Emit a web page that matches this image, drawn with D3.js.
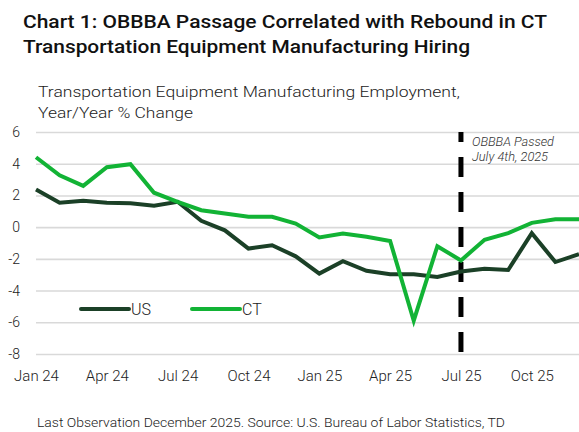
<!DOCTYPE html>
<html>
<head>
<meta charset="utf-8">
<script src="https://cdn.jsdelivr.net/npm/d3@7"></script>
<style>
  html, body { margin: 0; padding: 0; background: #fff; }
  svg { display: block; font-family: "Roboto", "Liberation Sans", sans-serif; }
</style>
</head>
<body>
<div id="chart"></div>
<script>
// monthly data, Jan 2024 .. Dec 2025
let months = ['Jan 24','Feb 24','Mar 24','Apr 24','May 24','Jun 24','Jul 24','Aug 24','Sep 24','Oct 24','Nov 24','Dec 24',
              'Jan 25','Feb 25','Mar 25','Apr 25','May 25','Jun 25','Jul 25','Aug 25','Sep 25','Oct 25','Nov 25','Dec 25'];
let usValues = [2.38,1.54,1.66,1.54,1.5,1.35,1.6,0.4,-0.2,-1.35,-1.14,-1.84,
                -2.93,-2.15,-2.75,-2.97,-2.97,-3.14,-2.8,-2.63,-2.7,-0.38,-2.2,-1.71];
let ctValues = [4.41,3.27,2.6,3.78,3.97,2.17,1.6,1.07,0.86,0.65,0.65,0.23,
                -0.65,-0.4,-0.61,-0.87,-5.9,-1.2,-2.1,-0.8,-0.38,0.27,0.49,0.49];
let xTickLabels = ['Jan 24','Apr 24','Jul 24','Oct 24','Jan 25','Apr 25','Jul 25','Oct 25'];
let yTicks = [6,4,2,0,-2,-4,-6,-8];
let seriesNames = ['US','CT'];
let eventMonth = 'Jul 25';

let width = 579, height = 432;
let colors = {US: '#1b4027', CT: '#12b335'};

let svg = d3.select("#chart").append("svg")
  .attr('width', width)
  .attr('height', height);

let x = d3.scalePoint().domain(months).range([36, 579]);
let y = d3.scaleLinear().domain([-8, 6]).range([354, 132]);

// titles
let title = svg.append("g").attr("fill", "#111").attr("font-weight", 500).attr("font-size", 17.5);
title.append("text").attr("x", 23).attr("y", 28)
  .attr("textLength", 524).attr("lengthAdjust", "spacingAndGlyphs")
  .text("Chart 1: OBBBA Passage Correlated with Rebound in CT");
title.append("text").attr("x", 23).attr("y", 53)
  .attr("textLength", 447).attr("lengthAdjust", "spacingAndGlyphs")
  .text("Transportation Equipment Manufacturing Hiring");

let ytitle = svg.append("g").attr("fill", "#222").attr("font-size", 15).attr("font-weight", 300);
ytitle.append("text").attr("x", 38).attr("y", 97)
  .attr("textLength", 422).attr("lengthAdjust", "spacingAndGlyphs")
  .text("Transportation Equipment Manufacturing Employment,");
ytitle.append("text").attr("x", 38).attr("y", 118)
  .attr("textLength", 155).attr("lengthAdjust", "spacingAndGlyphs")
  .text("Year/Year % Change");

// grid + y axis
const yAxis = d3.axisLeft(y).tickValues(yTicks).tickSize(-(579 - 36)).tickPadding(16)
  .tickFormat(d3.format("d"));
svg.append("g")
  .attr("transform", "translate(36,0)")
  .call(yAxis)
  .call(g => g.select(".domain").remove())
  .call(g => g.selectAll(".tick line").attr("stroke", "#d9d9d9").attr("stroke-width", 1.6))
  .call(g => g.selectAll(".tick text").attr("fill", "#222").attr("font-size", 14)
    .attr("font-family", "Roboto, sans-serif").attr("font-weight", 300)
    .text(d => d < 0 ? "-" + Math.abs(d) : d));

// x axis labels
const xAxis = d3.axisBottom(x).tickValues(xTickLabels).tickSize(0).tickPadding(0);
svg.append("g")
  .attr("transform", "translate(0,370)")
  .call(xAxis)
  .call(g => g.select(".domain").remove())
  .call(g => g.selectAll(".tick text").attr("fill", "#222").attr("font-size", 15)
    .attr("font-family", "Roboto, sans-serif").attr("font-weight", 300).attr("dy", "0.71em"));

// event line
svg.append("line")
  .attr("x1", x(eventMonth)).attr("x2", x(eventMonth))
  .attr("y1", y(6)).attr("y2", y(-8))
  .attr("stroke", "#000").attr("stroke-width", 5)
  .attr("stroke-dasharray", "20,15").attr("stroke-dashoffset", 10);

let note = svg.append("g").attr("fill", "#333").attr("font-size", 12.5).attr("font-style", "italic").attr("font-weight", 300);
note.append("text").attr("x", 472).attr("y", 146).attr("textLength", 82).attr("lengthAdjust", "spacingAndGlyphs").text("OBBBA Passed");
note.append("text").attr("x", 472).attr("y", 161).attr("textLength", 76).attr("lengthAdjust", "spacingAndGlyphs").text("July 4th, 2025");

// series
const line = d3.line().x((d, i) => x(months[i])).y(d => y(d));
let series = [
  {name: 'US', values: usValues},
  {name: 'CT', values: ctValues}
];
svg.append("g").selectAll("path")
  .data(series)
  .enter()
  .append("path")
  .attr("fill", "none")
  .attr("stroke", d => colors[d.name])
  .attr("stroke-width", 4)
  .attr("stroke-linejoin", "miter")
  .attr("d", d => line(d.values));

// legend
let legendX = [81, 192];
let legend = svg.append("g").selectAll("g")
  .data(seriesNames)
  .enter()
  .append("g")
  .attr("transform", (d, i) => "translate(" + legendX[i] + ",309)");
legend.append("line")
  .attr("x1", 0).attr("x2", 48)
  .attr("stroke", d => colors[d]).attr("stroke-width", 4).attr("stroke-linecap", "round");
legend.append("text")
  .attr("x", 50).attr("dy", "0.36em")
  .attr("fill", "#222").attr("font-size", 16).attr("font-weight", 300)
  .text(d => d);

// footer
svg.append("text")
  .attr("x", 37).attr("y", 427)
  .attr("fill", "#222").attr("font-size", 12.5).attr("font-weight", 300)
  .attr("textLength", 468).attr("lengthAdjust", "spacingAndGlyphs")
  .text("Last Observation December 2025. Source: U.S. Bureau of Labor Statistics, TD");
</script>
</body>
</html>
